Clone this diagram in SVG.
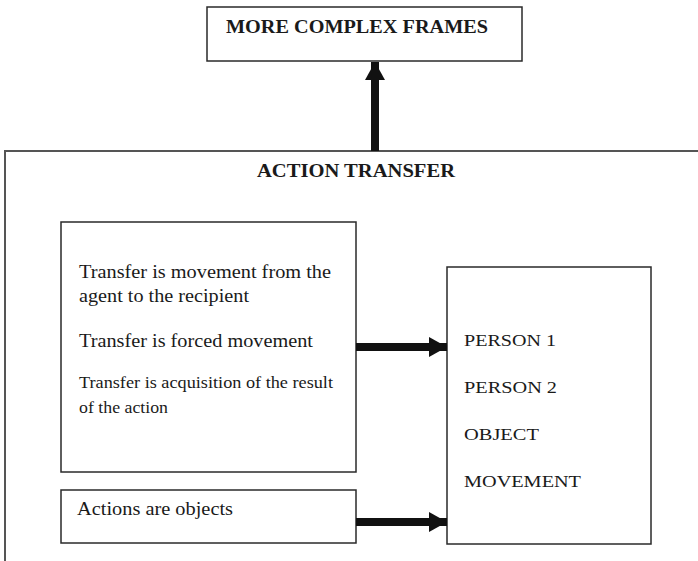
<svg xmlns="http://www.w3.org/2000/svg" width="698" height="561" viewBox="0 0 698 561">
  <style>
    .box { fill: #ffffff; stroke: #2a2a2a; stroke-width: 1.5; }
    .frame { fill: none; stroke: #555555; stroke-width: 2; }
    .title { font-family: "Liberation Serif", "Times New Roman", serif; font-weight: bold; font-size: 18px; fill: #1a1a1a; }
    .body { font-family: "Liberation Serif", "Times New Roman", serif; font-size: 19.5px; fill: #1a1a1a; }
    .small { font-family: "Liberation Serif", "Times New Roman", serif; font-size: 17.5px; fill: #1a1a1a; }
    .slot { font-family: "Liberation Serif", "Times New Roman", serif; font-size: 17.5px; fill: #1a1a1a; }
    .link { stroke: #111111; stroke-width: 8; fill: none; }
  </style>
  <defs>
    <marker id="head" markerUnits="userSpaceOnUse" markerWidth="20" markerHeight="20" viewBox="0 0 18 20" refX="18" refY="10" orient="auto">
      <path d="M0,0 L18,10 L0,20 Z" fill="#111111"/>
    </marker>
  </defs>

  <rect width="698" height="561" fill="#ffffff"/>

  <!-- outer frame -->
  <g id="action-transfer">
    <rect class="frame" x="5" y="151" width="800" height="500"/>
    <text class="title" x="356" y="177" text-anchor="middle" textLength="198" lengthAdjust="spacingAndGlyphs">ACTION TRANSFER</text>
  </g>

  <g id="more-complex-frames">
    <rect class="box" x="207" y="7" width="315" height="54"/>
    <text class="title" x="226" y="33" textLength="262" lengthAdjust="spacingAndGlyphs">MORE COMPLEX FRAMES</text>
  </g>

  <g id="transfer-metaphors">
    <rect class="box" x="61" y="222" width="295" height="250"/>
    <text class="body" x="79" y="278" textLength="252" lengthAdjust="spacingAndGlyphs">Transfer is movement from the</text>
    <text class="body" x="79" y="302" textLength="170" lengthAdjust="spacingAndGlyphs">agent to the recipient</text>
    <text class="body" x="79" y="347" textLength="234" lengthAdjust="spacingAndGlyphs">Transfer is forced movement</text>
    <text class="small" x="79" y="388" textLength="254" lengthAdjust="spacingAndGlyphs">Transfer is acquisition of the result</text>
    <text class="small" x="79" y="413" textLength="89" lengthAdjust="spacingAndGlyphs">of the action</text>
  </g>

  <g id="actions-are-objects">
    <rect class="box" x="61" y="490" width="295" height="53"/>
    <text class="body" x="77" y="515" textLength="156" lengthAdjust="spacingAndGlyphs">Actions are objects</text>
  </g>

  <g id="roles">
    <rect class="box" x="447" y="267" width="204" height="277"/>
    <text class="slot" x="464" y="346" textLength="92" lengthAdjust="spacingAndGlyphs">PERSON 1</text>
    <text class="slot" x="464" y="393" textLength="93" lengthAdjust="spacingAndGlyphs">PERSON 2</text>
    <text class="slot" x="464" y="440" textLength="75" lengthAdjust="spacingAndGlyphs">OBJECT</text>
    <text class="slot" x="464" y="487" textLength="117" lengthAdjust="spacingAndGlyphs">MOVEMENT</text>
  </g>

  <g id="connectors">
    <line class="link" x1="375" y1="151" x2="375" y2="62" marker-end="url(#head)"/>
    <line class="link" x1="356" y1="347" x2="447" y2="347" marker-end="url(#head)"/>
    <line class="link" x1="356" y1="522" x2="447" y2="522" marker-end="url(#head)"/>
  </g>
</svg>
